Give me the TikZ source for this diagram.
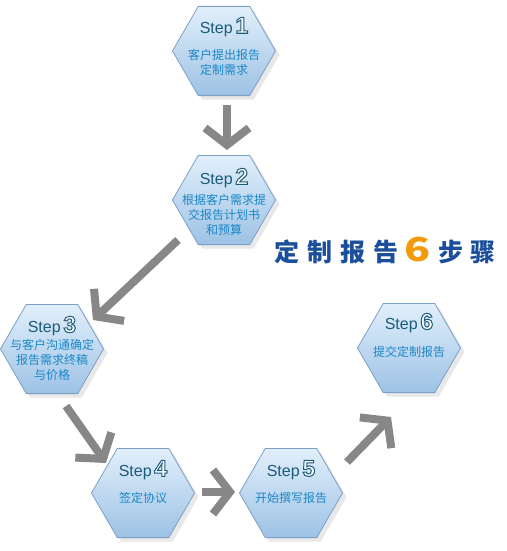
\documentclass[tikz,border=0pt]{standalone}
\usepackage{fontspec}
\usepackage{xcolor}
\usepackage{graphicx}
\usepackage{tikz}
\usetikzlibrary{arrows.meta,positioning,calc,shapes.geometric,shadows}
\setsansfont{Liberation Sans}
\newfontfamily\cjk{Noto Sans CJK SC}
\definecolor{hexborder}{HTML}{7C9FC6}
\definecolor{hextop}{HTML}{E2EFFB}
\definecolor{hexbottom}{HTML}{9DC2E5}
\definecolor{stepblue}{HTML}{1B5B7B}
\definecolor{textblue}{HTML}{1A87C6}
\definecolor{titleblue}{HTML}{1B4E9B}
\definecolor{titleorange}{HTML}{F39A0B}
\definecolor{arrowgray}{HTML}{878787}
\newcommand\hollowdigit[1]{{\fontsize{23}{23}\selectfont\bfseries\rlap{\color{white}#1}\special{pdf:code 1 Tr 1 w}#1\special{pdf:code 0 Tr}}}
\tikzset{
  stepvertex/.style={regular polygon,regular polygon sides=6,minimum size=103pt,inner sep=0pt,
    draw=hexborder,line width=.8pt,top color=hextop,bottom color=hexbottom,
    drop shadow={shadow xshift=4pt,shadow yshift=-4pt,fill=black!18,draw=none}},
  steplabel/.style={font=\sffamily\fontsize{16}{16}\selectfont,text=stepblue,inner sep=0pt},
  stepinfo/.style={font=\cjk\fontsize{12}{15}\selectfont,text=textblue,align=center,inner sep=0pt},
  steparrow/.style={draw=arrowgray,line width=8pt,-{Straight Barb[length=17pt,width=44pt]}}
}

\begin{document}
\begin{tikzpicture}[x=1pt,y=-1pt]
  \useasboundingbox (0,0) rectangle (506,551);
  \node[stepvertex] (s1) at (224,51) {};
  \node[stepvertex] (s2) at (224,200) {};
  \node[stepvertex] (s3) at (52,349) {};
  \node[stepvertex] (s4) at (143,493) {};
  \node[stepvertex] (s5) at (291,493) {};
  \node[stepvertex] (s6) at (409,348) {};
  \node[steplabel] (l1) at ($(s1)+(0,-24)$) {Step\,\hollowdigit{1}};
  \node[steplabel] (l2) at ($(s2)+(0,-22)$) {Step\,\hollowdigit{2}};
  \node[steplabel] (l3) at ($(s3)+(0,-23)$) {Step\,\hollowdigit{3}};
  \node[steplabel] (l4) at ($(s4)+(0,-23)$) {Step\,\hollowdigit{4}};
  \node[steplabel] (l5) at ($(s5)+(0,-23)$) {Step\,\hollowdigit{5}};
  \node[steplabel] (l6) at ($(s6)+(0,-25)$) {Step\,\hollowdigit{6}};
  \node[stepinfo] (t1) at ($(s1)+(0,11)$) {客户提出报告\\定制需求};
  \node[stepinfo] (t2) at ($(s2)+(0,15)$) {根据客户需求提\\交报告计划书\\和预算};
  \node[stepinfo] (t3) at ($(s3)+(0,11)$) {与客户沟通确定\\报告需求终稿\\与价格};
  \node[stepinfo] (t4) at ($(s4)+(0,5)$) {签定协议};
  \node[stepinfo] (t5) at ($(s5)+(0,5)$) {开始撰写报告};
  \node[stepinfo] (t6) at ($(s6)+(0,4)$) {提交定制报告};
  % title
  \node[anchor=west,inner sep=0pt,text=titleblue,font=\cjk\bfseries\fontsize{25}{25}\selectfont] (title) at (274,251)
    {定\kern8pt制\kern8pt报\kern8pt告\kern6pt{\color{titleorange}\fontsize{33}{33}\selectfont\scalebox{1.3}[1]{6}}\kern8pt步\kern7pt骤};
  \draw[steparrow] ($(s1)+(3,54)$) -- ($(s2)+(3,-50)$);
  \draw[steparrow] ($(s2)+(-46,40)$) -- ($(s3)+(41,-29)$);
  \draw[steparrow] ($(s3)+(14,57)$) -- ($(s4)+(-37,-30)$);
  \draw[steparrow] ($(s4)+(59,-1)$) -- ($(s5)+(-56,-1)$);
  \draw[steparrow] ($(s5)+(56,-31)$) -- ($(s6)+(-18,69)$);
\end{tikzpicture}
\end{document}
